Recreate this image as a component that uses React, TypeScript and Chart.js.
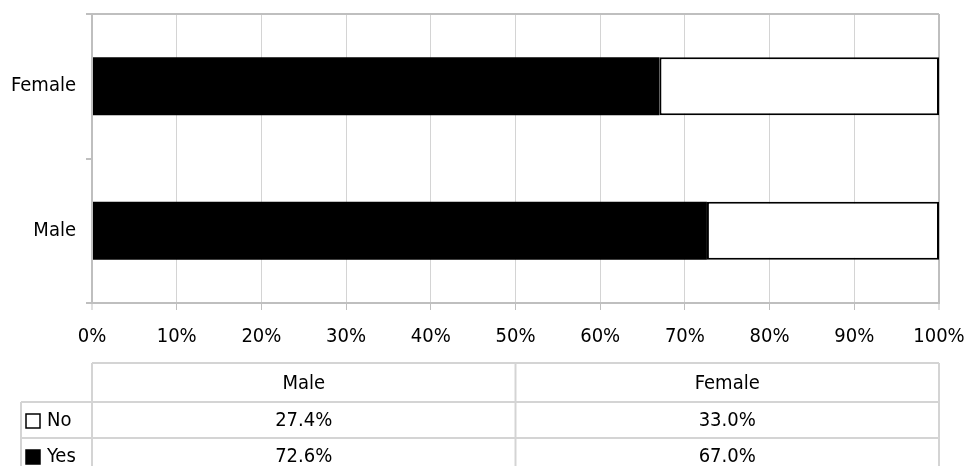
import React, { useEffect, useRef } from 'react';
import { Chart, registerables } from 'chart.js';

Chart.register(...registerables);

const categories = ['Male', 'Female'];
const yesValues = [72.6, 67.0];
const noValues = [27.4, 33.0];
const seriesNames = ['Yes', 'No'];
const seriesFills = ['#000000', '#ffffff'];
const axisMin = 0;
const axisMax = 100;
const tickStep = 10;

const FONT = '"DejaVu Sans Condensed", "DejaVu Sans", sans-serif';
const FONT_SIZE = 20;
const TEXT = '#000000';
const BORDER_GREY = '#bfbfbf';
const GRID_GREY = '#d4d4d4';
const TABLE_GREY = '#d4d4d4';

const seriesValues = [yesValues, noValues];

const tablePlugin = {
  id: 'dataTable',
  afterDraw(chart: any) {
    const { ctx, chartArea } = chart;
    const { left, right, bottom } = chartArea;
    const n = categories.length;
    const colW = (right - left) / n;
    const top = bottom + 60;
    const headerH = 39;
    const rowH = 36;
    const labelLeft = 21;
    const rowOrder = [1, 0]; // No, Yes (as in the reference table)
    const tableBottom = top + headerH + rowOrder.length * rowH;

    ctx.save();
    ctx.strokeStyle = TABLE_GREY;
    ctx.lineWidth = 2;
    const line = (x1: number, y1: number, x2: number, y2: number) => {
      ctx.beginPath();
      ctx.moveTo(x1, y1);
      ctx.lineTo(x2, y2);
      ctx.stroke();
    };
    line(left, top, right, top);
    for (let i = 0; i <= rowOrder.length; i++) {
      const y = top + headerH + i * rowH;
      line(labelLeft, y, right, y);
    }
    for (let k = 0; k <= n; k++) {
      const x = left + k * colW;
      line(x, top, x, tableBottom);
    }
    line(labelLeft, top + headerH, labelLeft, tableBottom);

    ctx.fillStyle = TEXT;
    ctx.font = `${FONT_SIZE}px ${FONT}`;
    ctx.textBaseline = 'middle';
    ctx.textAlign = 'center';
    categories.forEach((c, k) => {
      ctx.fillText(c, left + (k + 0.5) * colW, top + headerH / 2 + 1);
    });
    rowOrder.forEach((si, r) => {
      const cy = top + headerH + r * rowH + rowH / 2 + 1;
      const ks = 14;
      const kx = 26;
      ctx.fillStyle = seriesFills[si];
      ctx.fillRect(kx, cy - ks / 2, ks, ks);
      ctx.strokeStyle = '#000';
      ctx.lineWidth = 1.5;
      ctx.strokeRect(kx, cy - ks / 2, ks, ks);
      ctx.fillStyle = TEXT;
      ctx.textAlign = 'left';
      ctx.fillText(seriesNames[si], 47, cy);
      ctx.textAlign = 'center';
      seriesValues[si].forEach((v, k) => {
        ctx.fillText(v.toFixed(1) + '%', left + (k + 0.5) * colW, cy);
      });
    });
    ctx.restore();
  },
};

const zeroPadding = (s: any) => {
  s.paddingTop = 0;
  s.paddingBottom = 0;
  s.paddingLeft = 0;
  s.paddingRight = 0;
};

export default function App() {
  const ref = useRef<HTMLCanvasElement>(null);
  useEffect(() => {
    if (!ref.current) return;
    const font = { family: FONT, size: FONT_SIZE };
    const chart = new Chart(ref.current, {
      type: 'bar',
      data: {
        labels: categories,
        datasets: seriesNames.map((name, i) => ({
          label: name,
          data: seriesValues[i],
          backgroundColor: seriesFills[i],
          borderColor: '#000000',
          borderWidth: i === 0 ? 0 : 2,
          borderSkipped: false,
          barPercentage: 0.4,
          categoryPercentage: 1,
        })),
      },
      options: {
        indexAxis: 'y',
        responsive: false,
        animation: false,
        devicePixelRatio: 1,
        layout: { padding: { top: 14, left: 0, right: 29, bottom: 0 } },
        plugins: { legend: { display: false }, tooltip: { enabled: false } },
        scales: {
          x: {
            stacked: true,
            min: axisMin,
            max: axisMax,
            ticks: {
              stepSize: tickStep,
              callback: (v: any) => v + '%',
              font,
              color: TEXT,
              padding: 15,
              maxRotation: 0,
              autoSkip: false,
            },
            grid: {
              color: (c: any) =>
                c.tick && (c.tick.value === axisMin || c.tick.value === axisMax) ? BORDER_GREY : GRID_GREY,
              lineWidth: (c: any) =>
                c.tick && (c.tick.value === axisMin || c.tick.value === axisMax) ? 2 : 1,
              tickLength: 7,
              tickColor: BORDER_GREY,
              tickWidth: 1,
            },
            border: { color: BORDER_GREY, width: 2 },
            afterFit: (s: any) => {
              s.height = 163;
              zeroPadding(s);
            },
          },
          y: {
            stacked: true,
            reverse: true,
            ticks: { font, color: TEXT, padding: 10 },
            grid: {
              offset: true,
              color: (c: any) =>
                typeof c.index === 'number' && c.index > 0 && c.index < categories.length
                  ? 'rgba(0,0,0,0)'
                  : BORDER_GREY,
              lineWidth: 2,
              tickLength: 6,
              tickColor: BORDER_GREY,
              tickWidth: 2,
            },
            border: { color: BORDER_GREY, width: 2 },
            afterFit: (s: any) => {
              s.width = 92;
              zeroPadding(s);
            },
          },
        },
      },
      plugins: [tablePlugin],
    } as any);
    return () => chart.destroy();
  }, []);
  return (
    <div style={{ position: 'fixed', left: 0, top: 0, width: 968, height: 466, background: '#fff' }}>
      <canvas ref={ref} width={968} height={466} style={{ display: 'block' }} />
    </div>
  );
}
